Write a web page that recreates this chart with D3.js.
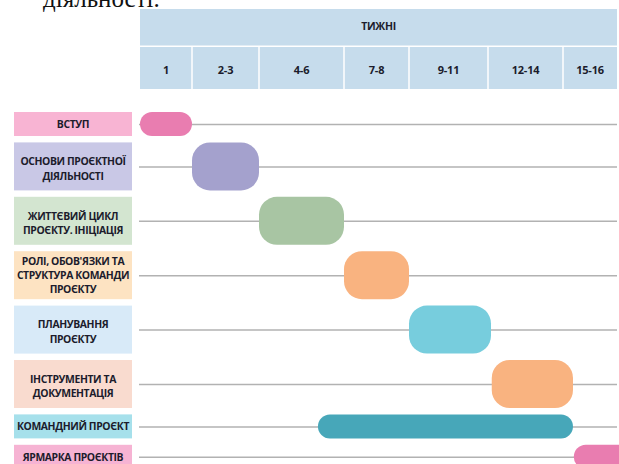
<!DOCTYPE html>
<html>
<head>
<meta charset="utf-8">
<script src="https://cdn.jsdelivr.net/npm/d3@7"></script>
<style>
  html, body { margin: 0; padding: 0; background: #fff; }
  svg { display: block; }
</style>
</head>
<body>
<svg id="chart" width="619" height="464"></svg>
<script>
// ---------- DATA ----------
const headerTitle = "ТИЖНІ";
const weekLabels = ["1", "2-3", "4-6", "7-8", "9-11", "12-14", "15-16"];
const weekBounds = [0.5, 1.5, 3.5, 6.5, 8.5, 11.5, 14.5, 16.5];

const taskLabels = [
  ["ВСТУП"],
  ["ОСНОВИ ПРОЄКТНОЇ", "ДІЯЛЬНОСТІ"],
  ["ЖИТТЄВИЙ ЦИКЛ", "ПРОЄКТУ. ІНІЦІАЦІЯ"],
  ["РОЛІ, ОБОВ'ЯЗКИ ТА", "СТРУКТУРА КОМАНДИ", "ПРОЄКТУ"],
  ["ПЛАНУВАННЯ", "ПРОЄКТУ"],
  ["ІНСТРУМЕНТИ ТА", "ДОКУМЕНТАЦІЯ"],
  ["КОМАНДНИЙ ПРОЄКТ"],
  ["ЯРМАРКА ПРОЄКТІВ"]
];
const taskStart = [0.5, 1.5, 3.5, 6.5, 8.5, 11.65, 5.58, 14.9];
const taskEnd   = [1.5, 3.5, 6.5, 8.5, 11.62, 14.87, 14.87, 17.2];

const captionText = "діяльності.";

// ---------- STYLE / LAYOUT ----------
const boxColors  = ["#f8b4d3", "#c9c8e6", "#d3e5d0", "#fde3c2", "#d8eaf8", "#f9dbcf", "#a6e0eb", "#f6b3d3"];
const pillColors = ["#e97db0", "#a4a1cd", "#a8c5a3", "#f9b380", "#77cddd", "#f9b380", "#47a7b9", "#e97db0"];
const colEdgesPx = [140, 192, 259, 344, 409, 488, 563, 617];
const headerFill = "#c6dcec";
const textColor = "#1c1c2c";
const font = "'Open Sans', 'DejaVu Sans', sans-serif";

const svg = d3.select("#chart");

// Piecewise-linear week scale
const x = d3.scaleLinear().domain(weekBounds).range(colEdgesPx);

// Vertical layout: rows of 1 or 2 units
const unitH = 24, gap = 6.4, top0 = 112;
const rowUnits = taskLabels.map(l => l.length > 1 ? 2 : 1);
const rows = [];
let yCur = top0;
rowUnits.forEach((u, i) => {
  const h = u * unitH;
  rows.push({ i, y: yCur, h, labels: taskLabels[i], start: taskStart[i], end: taskEnd[i] });
  yCur += h + gap;
});

// Caption text cut at the top (as in the source page)
svg.append("text")
  .attr("x", 43).attr("y", 6.5)
  .attr("font-family", "'Liberation Serif', 'DejaVu Serif', serif")
  .attr("font-size", 25)
  .attr("fill", "#111")
  .text(captionText);

// Header
const hdr = svg.append("g");
hdr.append("rect")
  .attr("x", x(weekBounds[0])).attr("y", 9)
  .attr("width", x(weekBounds[weekBounds.length - 1]) - x(weekBounds[0]))
  .attr("height", 36.5)
  .attr("fill", headerFill);
hdr.append("text")
  .attr("x", (x(weekBounds[0]) + x(weekBounds[weekBounds.length - 1])) / 2)
  .attr("y", 26)
  .attr("text-anchor", "middle").attr("dominant-baseline", "central")
  .attr("font-family", font).attr("font-weight", 700).attr("font-size", 10.5)
  .attr("letter-spacing", -0.3)
  .attr("fill", textColor)
  .text(headerTitle);

const cols = weekLabels.map((l, i) => ({ l, a: weekBounds[i], b: weekBounds[i + 1], i }));
hdr.selectAll("rect.col").data(cols).join("rect")
  .attr("class", "col")
  .attr("x", d => x(d.a) + (d.i === 0 ? 0 : 0.75))
  .attr("y", 47)
  .attr("width", d => x(d.b) - x(d.a) - (d.i === 0 ? 0.75 : 1.5) + (d.i === cols.length - 1 ? 0.75 : 0))
  .attr("height", 42)
  .attr("fill", headerFill);
hdr.selectAll("text.col").data(cols).join("text")
  .attr("class", "col")
  .attr("x", d => (x(d.a) + x(d.b)) / 2)
  .attr("y", 69)
  .attr("text-anchor", "middle").attr("dominant-baseline", "central")
  .attr("font-family", font).attr("font-weight", 700).attr("font-size", 11)
  .attr("letter-spacing", -0.2)
  .attr("fill", textColor)
  .text(d => d.l);

// Grid lines
svg.append("g").selectAll("line").data(rows).join("line")
  .attr("x1", 139).attr("x2", x(weekBounds[weekBounds.length - 1]))
  .attr("y1", d => d.y + d.h / 2 + 0.5).attr("y2", d => d.y + d.h / 2 + 0.5)
  .attr("stroke", "#b2b2b2").attr("stroke-width", 1.5);

// Label boxes
const lab = svg.append("g").selectAll("g").data(rows).join("g");
lab.append("rect")
  .attr("x", 14).attr("y", d => d.y)
  .attr("width", 118).attr("height", d => d.h)
  .attr("fill", d => boxColors[d.i]);
lab.each(function(d) {
  const n = d.labels.length;
  const lh = n > 2 ? 14 : 14.5;
  const cy = d.y + d.h / 2 + (n === 2 ? 2 : -0.3);
  d3.select(this).selectAll("text").data(d.labels).join("text")
    .attr("x", 73)
    .attr("y", (t, k) => cy + (k - (n - 1) / 2) * lh)
    .attr("text-anchor", "middle").attr("dominant-baseline", "central")
    .attr("font-family", font).attr("font-weight", 700).attr("font-size", 10.4)
    .attr("letter-spacing", -0.4)
    .attr("fill", textColor)
    .text(t => t);
});

// Pills
svg.append("g").selectAll("rect").data(rows).join("rect")
  .attr("x", d => x(d.start))
  .attr("y", d => d.y)
  .attr("width", d => x(d.end) - x(d.start))
  .attr("height", d => d.h)
  .attr("rx", d => Math.min(d.h / 2, 18))
  .attr("fill", d => pillColors[d.i]);
</script>
</body>
</html>
